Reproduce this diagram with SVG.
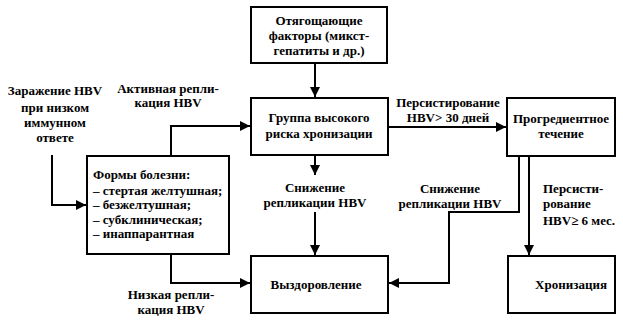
<svg xmlns="http://www.w3.org/2000/svg" width="623" height="324" viewBox="0 0 623 324">
<style>
.box{fill:#fff;stroke:#000;stroke-width:2}
.ln{fill:none;stroke:#000;stroke-width:2}
text{font-family:"Liberation Serif","Times New Roman",serif;font-weight:bold;font-size:13px;fill:#000}
.c{text-anchor:middle}
</style>
<defs>
<marker id="ah" viewBox="0 0 10 10" refX="10" refY="5" markerWidth="5" markerHeight="5" markerUnits="strokeWidth" orient="auto">
<path d="M0,0 L10,5 L0,10 z" fill="#000"/>
</marker>
</defs>
<rect width="623" height="324" fill="#fff"/>
<g id="connectors">
<path class="ln" d="M315,63 V97" marker-end="url(#ah)"/>
<path class="ln" d="M388,127 H506" marker-end="url(#ah)"/>
<path class="ln" d="M52,155 V205 H86" marker-end="url(#ah)"/>
<path class="ln" d="M171,156 V126 H250" marker-end="url(#ah)"/>
<path class="ln" d="M171,254 V283 H250" marker-end="url(#ah)"/>
<path class="ln" d="M315,155 V175" marker-end="url(#ah)"/>
<path class="ln" d="M315,212 V255" marker-end="url(#ah)"/>
<path class="ln" d="M519,156 V212 H449 V283 H389" marker-end="url(#ah)"/>
<path class="ln" d="M529,156 V255" marker-end="url(#ah)"/>
</g>
<g id="labels">
<text class="c" x="55" y="95">Заражение HBV</text>
<text class="c" x="55" y="112">при низком</text>
<text class="c" x="55" y="127">иммунном</text>
<text class="c" x="55" y="142">ответе</text>
<text class="c" x="168" y="93">Активная репли-</text>
<text class="c" x="168" y="107">кация HBV</text>
<text class="c" x="448" y="107">Персистирование</text>
<text class="c" x="448" y="122">HBV&gt; 30 дней</text>
<text class="c" x="315" y="192">Снижение</text>
<text class="c" x="315" y="207">репликации HBV</text>
<text class="c" x="450" y="193">Снижение</text>
<text class="c" x="450" y="208">репликации HBV</text>
<text x="543" y="193">Персисти-</text>
<text x="543" y="208">рование</text>
<text x="543" y="225">HBV≥ 6 мес.</text>
<text class="c" x="171" y="299">Низкая репли-</text>
<text class="c" x="171" y="314">кация HBV</text>
</g>
<g id="n-factors">
<rect class="box" x="251" y="7" width="136" height="56"/>
<text class="c" x="319" y="25">Отягощающие</text>
<text class="c" x="319" y="40">факторы (микст-</text>
<text class="c" x="319" y="55">гепатиты и др.)</text>
</g>
<g id="n-group">
<rect class="box" x="251" y="98" width="137" height="57"/>
<text class="c" x="319" y="122">Группа высокого</text>
<text class="c" x="319" y="138">риска хронизации</text>
</g>
<g id="n-progr">
<rect class="box" x="507" y="98" width="108" height="58"/>
<text class="c" x="561" y="123">Прогредиентное</text>
<text class="c" x="561" y="138">течение</text>
</g>
<g id="n-forms">
<rect class="box" x="87" y="156" width="142" height="98"/>
<text x="93" y="179">Формы болезни:</text>
<text x="93" y="195">– стертая желтушная;</text>
<text x="93" y="209">– безжелтушная;</text>
<text x="93" y="224">– субклиническая;</text>
<text x="93" y="238">– инаппарантная</text>
</g>
<g id="n-recovery">
<rect class="box" x="251" y="256" width="137" height="57"/>
<text class="c" x="316" y="289">Выздоровление</text>
</g>
<g id="n-chron">
<rect class="box" x="508" y="256" width="107" height="57"/>
<text class="c" x="571" y="289">Хронизация</text>
</g>
</svg>
